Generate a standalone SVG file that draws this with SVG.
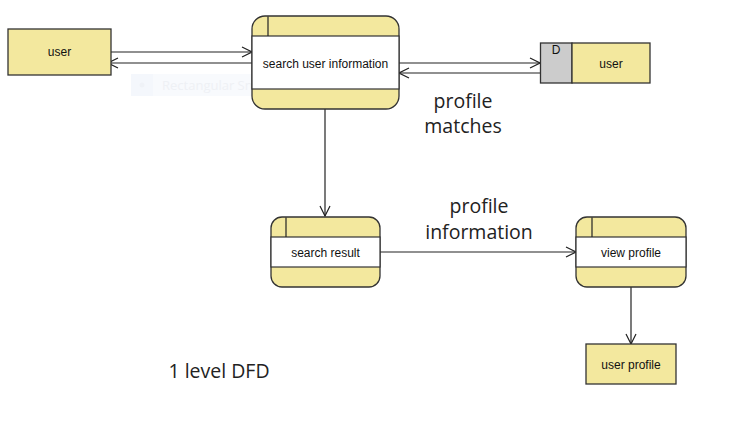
<svg xmlns="http://www.w3.org/2000/svg" width="737" height="432" viewBox="0 0 737 432">
<defs>
<style>
.box{fill:#f3e89e;stroke:#333;stroke-width:1.3}
.band{fill:#fff;stroke:#333;stroke-width:1.2}
.line{fill:none;stroke:#222;stroke-width:1.2}
.conn{fill:none;stroke:#222;stroke-width:1.2}
.t{font-family:"Liberation Sans",Arial,sans-serif;font-size:12px;fill:#111;text-anchor:middle}
.lbl{font-family:"Open Sans","Noto Sans",sans-serif;font-size:19.5px;fill:#222;text-anchor:middle}
</style>
<marker id="arr" viewBox="0 0 12 12" refX="11" refY="6" markerWidth="12" markerHeight="12" markerUnits="userSpaceOnUse" orient="auto">
<path d="M1,1 L11,6 L1,11" fill="none" stroke="#222" stroke-width="1.2"/>
</marker>
</defs>
<rect width="737" height="432" fill="#fff"/>
<g id="snip-overlay" opacity="0.6">
<rect x="131" y="74" width="172" height="22" fill="#f4f7fc"/>
<rect x="131" y="74" width="22" height="22" fill="#eef3fb"/>
<circle cx="142" cy="85" r="2.5" fill="#e6ebf3"/>
<text x="162" y="90" font-family="'Open Sans',sans-serif" font-size="13" fill="#e4e8ef">Rectangular Snip</text>
</g>
<g id="connectors">
<line class="conn" x1="111" y1="52" x2="252" y2="52" marker-end="url(#arr)"/>
<line class="conn" x1="252" y1="63" x2="108" y2="63" marker-end="url(#arr)"/>
<line class="conn" x1="399" y1="63" x2="540" y2="63" marker-end="url(#arr)"/>
<line class="conn" x1="540" y1="73" x2="399" y2="73" marker-end="url(#arr)"/>
<line class="conn" x1="325" y1="109" x2="325" y2="216" marker-end="url(#arr)"/>
<line class="conn" x1="380" y1="252" x2="576" y2="252" marker-end="url(#arr)"/>
<line class="conn" x1="631" y1="287" x2="631" y2="344" marker-end="url(#arr)"/>
</g>
<g id="user-entity">
<rect class="box" x="8" y="29" width="103" height="46"/>
<text class="t" x="59.5" y="56">user</text>
</g>
<g id="search-user-information">
<rect class="box" x="252" y="16" width="147" height="93" rx="13"/>
<rect class="band" x="252" y="36" width="147" height="53"/>
<line class="line" x1="268" y1="16.5" x2="268" y2="36"/>
<text class="t" x="325.5" y="68">search user information</text>
</g>
<g id="user-store">
<rect x="540.5" y="43" width="31.5" height="40" fill="#ccc" stroke="#333" stroke-width="1.3"/>
<rect class="box" x="572" y="43" width="78" height="40"/>
<text class="t" x="556" y="54">D</text>
<text class="t" x="611" y="68">user</text>
</g>
<g id="search-result">
<rect class="box" x="271" y="217" width="109" height="70" rx="11"/>
<rect class="band" x="271" y="237" width="109" height="30"/>
<line class="line" x1="286" y1="217.5" x2="286" y2="237"/>
<text class="t" x="325.5" y="257">search result</text>
</g>
<g id="view-profile">
<rect class="box" x="576" y="217" width="110" height="70" rx="11"/>
<rect class="band" x="576" y="237" width="110" height="30"/>
<line class="line" x1="592" y1="217.5" x2="592" y2="237"/>
<text class="t" x="631" y="257">view profile</text>
</g>
<g id="user-profile">
<rect class="box" x="586" y="344" width="90" height="40"/>
<text class="t" x="631" y="369">user profile</text>
</g>
<g id="labels">
<text class="lbl" x="463" y="107.5">profile</text>
<text class="lbl" x="463" y="133">matches</text>
<text class="lbl" x="479" y="213">profile</text>
<text class="lbl" x="479" y="238.5">information</text>
<text class="lbl" x="219" y="378" font-size="19">1 level DFD</text>
</g>
</svg>
